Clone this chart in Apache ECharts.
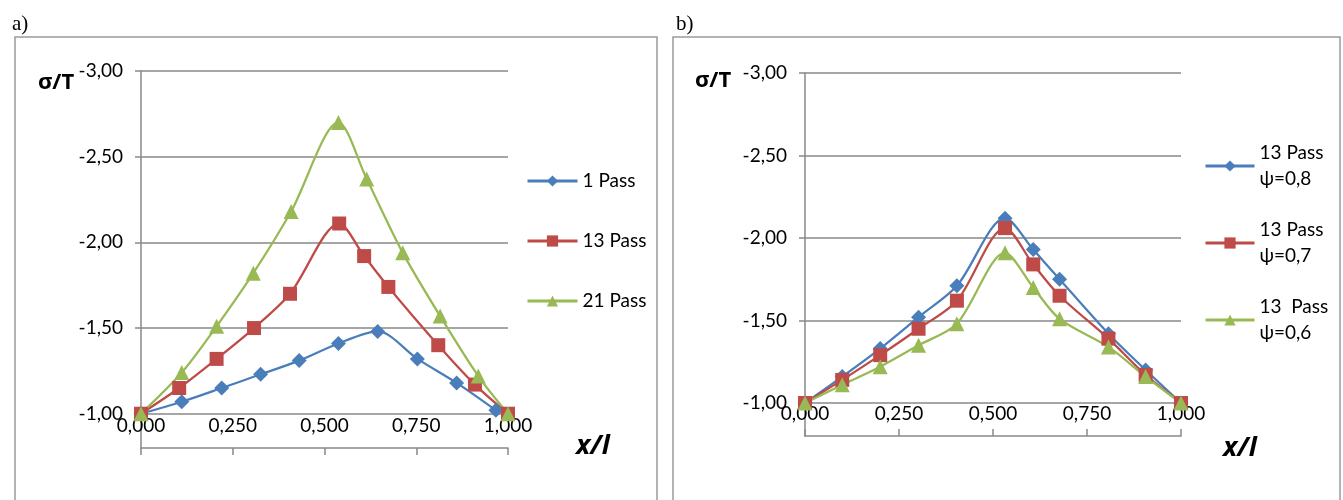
<!DOCTYPE html>
<html>
<head>
<meta charset="utf-8">
<script src="https://cdn.jsdelivr.net/npm/echarts@6/dist/echarts.min.js"></script>
<style>
  html, body { margin: 0; padding: 0; background: #fff; }
  #main { width: 1343px; height: 500px; }
</style>
</head>
<body>
<div id="main"></div>
<script>
// ---------------- data ----------------
// panel a)
let namesA = ['1 Pass', '13 Pass', '21 Pass'];
let xA1 = [0, 0.111, 0.220, 0.326, 0.431, 0.538, 0.645, 0.753, 0.860, 0.967];
let yA1 = [-1.00, -1.07, -1.15, -1.23, -1.31, -1.41, -1.48, -1.32, -1.18, -1.02];
let xA2 = [0, 0.104, 0.206, 0.308, 0.406, 0.540, 0.608, 0.674, 0.810, 0.910, 1.0];
let yA2 = [-1.00, -1.15, -1.32, -1.50, -1.70, -2.11, -1.92, -1.74, -1.40, -1.17, -1.00];
let xA3 = [0, 0.111, 0.206, 0.306, 0.409, 0.538, 0.615, 0.713, 0.815, 0.919, 1.0];
let yA3 = [-1.00, -1.24, -1.51, -1.82, -2.18, -2.70, -2.37, -1.94, -1.57, -1.22, -1.00];

// panel b)
let namesB = ['13 Pass ψ=0,8', '13 Pass ψ=0,7', '13  Pass ψ=0,6'];
let xB = [0, 0.099, 0.200, 0.302, 0.404, 0.532, 0.607, 0.677, 0.807, 0.906, 1.0];
let yB1 = [-1.00, -1.16, -1.33, -1.52, -1.71, -2.12, -1.93, -1.75, -1.42, -1.20, -1.00];
let yB2 = [-1.00, -1.14, -1.29, -1.45, -1.62, -2.06, -1.84, -1.65, -1.39, -1.17, -1.00];
let yB3 = [-1.00, -1.11, -1.22, -1.35, -1.48, -1.91, -1.70, -1.51, -1.34, -1.16, -1.00];

// tick labels
let yTicks = [-3, -2.5, -2, -1.5, -1];

let colors = ['#4A7EBB', '#BE4B48', '#98B954'];
let symbols = ['diamond', 'rect', 'triangle'];
let symbolSizes = [15, 14, 15];
let gridColor = '#898989';
let font = 'Lato';

function pairs(xs, ys) {
  return xs.map((x, i) => [x, ys[i]]);
}

function fmtX(v) { return v.toFixed(3).replace('.', ','); }
function fmtY(v) { return v.toFixed(2).replace('.', ','); }

function makeX(gridIndex, tickInside) {
  return {
    type: 'value',
    gridIndex: gridIndex,
    min: 0,
    max: 1,
    interval: 0.25,
    axisLine: { lineStyle: { color: gridColor, width: 1.5 } },
    axisTick: { show: true, inside: tickInside, length: 7, lineStyle: { color: gridColor, width: 1.5 } },
    axisLabel: {
      inside: true,
      margin: 13,
      formatter: fmtX,
      color: '#000',
      fontFamily: font,
      fontSize: 19
    },
    splitLine: { show: false }
  };
}

function makeY(gridIndex) {
  return {
    type: 'value',
    gridIndex: gridIndex,
    inverse: true,
    min: -3,
    max: -0.8,
    interval: 0.5,
    axisLine: { show: true, lineStyle: { color: gridColor, width: 1.5 } },
    axisTick: { show: true, length: 6, customValues: yTicks, lineStyle: { color: gridColor, width: 1.5 } },
    axisLabel: {
      margin: 18,
      customValues: yTicks,
      formatter: fmtY,
      color: '#000',
      fontFamily: font,
      fontSize: 19
    },
    splitLine: { show: true, lineStyle: { color: gridColor, width: 1.5 } }
  };
}

function makeSeries(name, data, i, gridIndex) {
  return {
    name: name,
    type: 'line',
    xAxisIndex: gridIndex,
    yAxisIndex: gridIndex,
    data: data,
    smooth: 0.3,
    symbol: symbols[i],
    symbolSize: symbolSizes[i],
    showAllSymbol: true,
    color: colors[i],
    lineStyle: { width: 2.25, color: colors[i] },
    itemStyle: { color: colors[i] },
    animation: false
  };
}

let myChart = echarts.init(document.getElementById('main'));
let option = {
  animation: false,
  textStyle: { fontFamily: font },
  title: [
    { text: 'a)', left: 7, top: 9, textStyle: { fontFamily: 'Liberation Serif', fontWeight: 'normal', fontSize: 21, color: '#000' } },
    { text: 'b)', left: 671, top: 9, textStyle: { fontFamily: 'Liberation Serif', fontWeight: 'normal', fontSize: 21, color: '#000' } },
    { text: 'σ/T', left: 33, top: 67, textStyle: { fontFamily: 'Open Sans', fontWeight: 'bold', fontSize: 22, color: '#000' } },
    { text: 'σ/T', left: 690, top: 65, textStyle: { fontFamily: 'Open Sans', fontWeight: 'bold', fontSize: 22, color: '#000' } },
    { text: 'x/l', left: 571, top: 428, textStyle: { fontFamily: 'Open Sans', fontWeight: 'bold', fontStyle: 'italic', fontSize: 27, color: '#000' } },
    { text: 'x/l', left: 1218, top: 430, textStyle: { fontFamily: 'Open Sans', fontWeight: 'bold', fontStyle: 'italic', fontSize: 27, color: '#000' } }
  ],
  graphic: [
    { type: 'rect', shape: { x: 15, y: 37, width: 642, height: 480 }, style: { fill: 'none', stroke: '#9a9a9a', lineWidth: 1.5 } },
    { type: 'rect', shape: { x: 673, y: 37, width: 667, height: 480 }, style: { fill: 'none', stroke: '#9a9a9a', lineWidth: 1.5 } }
  ],
  legend: [
    {
      data: namesA,
      orient: 'vertical',
      left: 521,
      top: 165,
      itemWidth: 50,
      itemHeight: 14,
      itemGap: 38,
      lineStyle: { width: 3 },
      textStyle: { fontFamily: font, fontSize: 19, lineHeight: 22, color: '#000' }
    },
    {
      data: namesB,
      orient: 'vertical',
      left: 1199,
      top: 122,
      itemWidth: 49,
      itemHeight: 14,
      itemGap: -1,
      lineStyle: { width: 3 },
      formatter: function (name) {
        return name.replace(' ψ', '\nψ');
      },
      textStyle: { fontFamily: font, fontSize: 19, lineHeight: 26, padding: [26, 0, 0, 0], color: '#000' }
    }
  ],
  grid: [
    { left: 141, right: 835, top: 71, bottom: 52 },
    { left: 805, right: 162, top: 73, bottom: 64 }
  ],
  xAxis: [makeX(0, false), makeX(1, true)],
  yAxis: [makeY(0), makeY(1)],
  series: [
    makeSeries(namesA[0], pairs(xA1, yA1), 0, 0),
    makeSeries(namesA[1], pairs(xA2, yA2), 1, 0),
    makeSeries(namesA[2], pairs(xA3, yA3), 2, 0),
    makeSeries(namesB[0], pairs(xB, yB1), 0, 1),
    makeSeries(namesB[1], pairs(xB, yB2), 1, 1),
    makeSeries(namesB[2], pairs(xB, yB3), 2, 1)
  ]
};
myChart.setOption(option);
</script>
</body>
</html>
